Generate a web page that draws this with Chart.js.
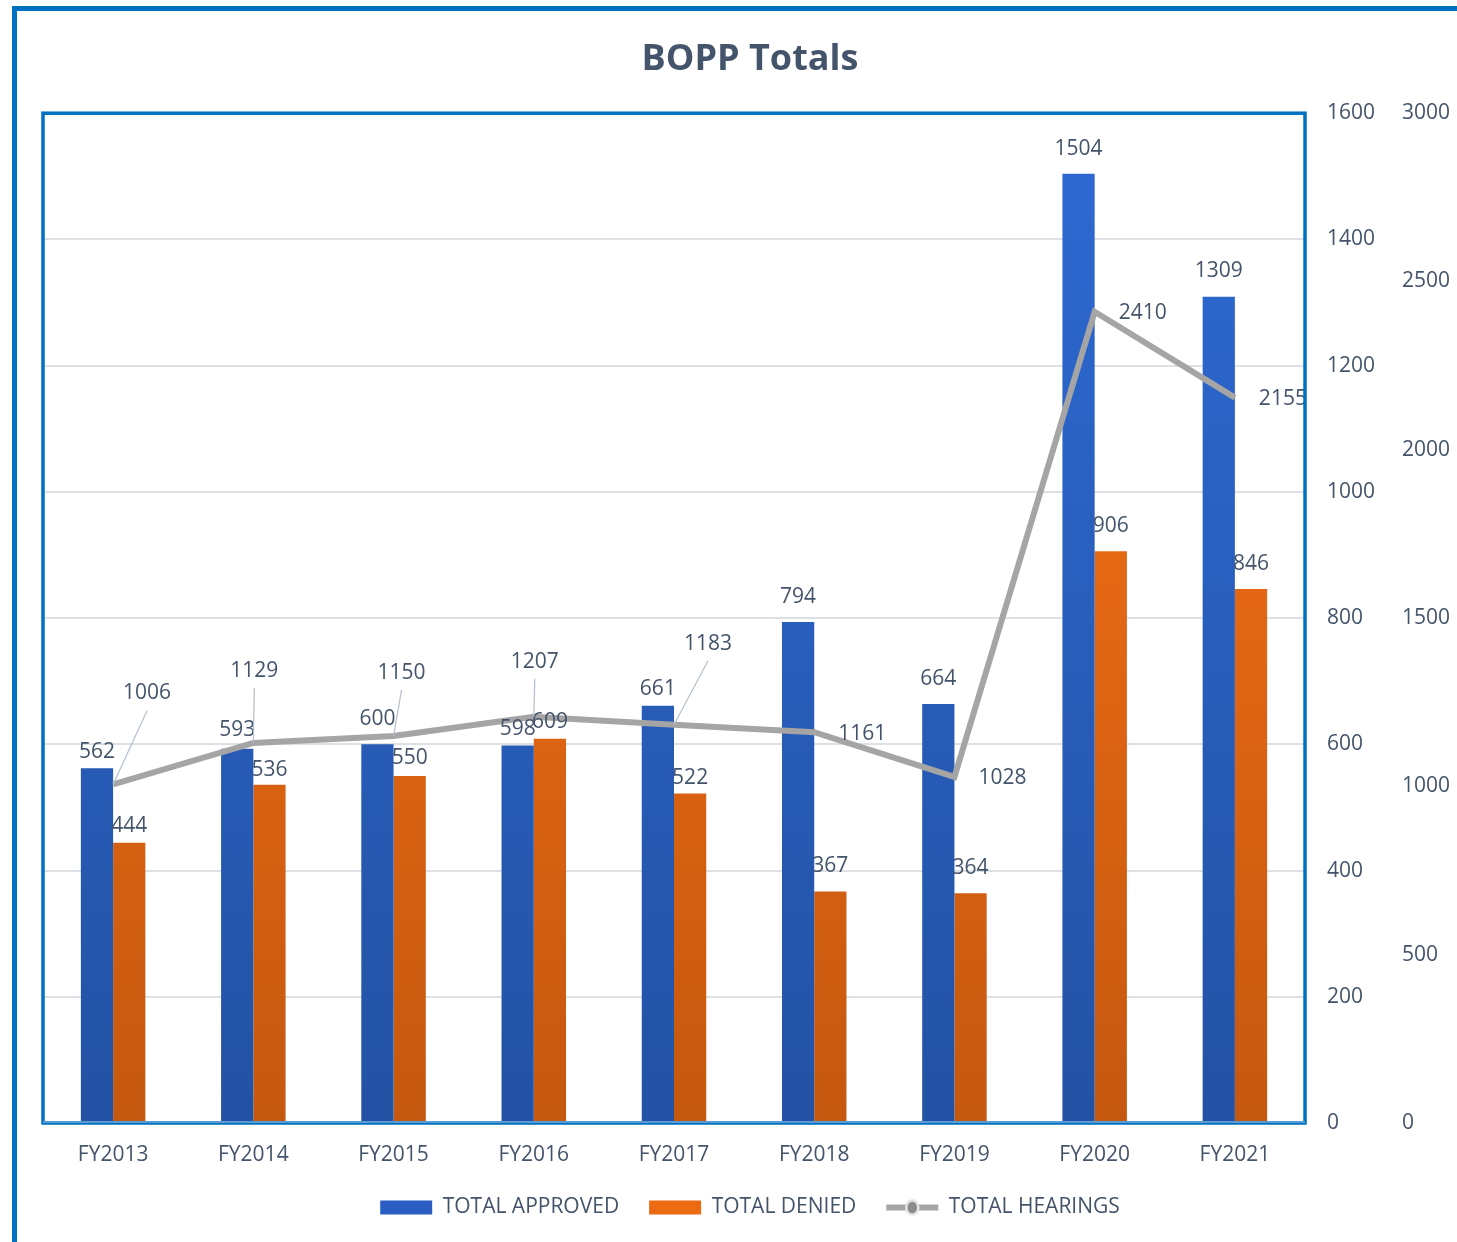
<!DOCTYPE html>
<html>
<head>
<meta charset="utf-8">
<script src="https://cdn.jsdelivr.net/npm/chart.js@4/dist/chart.umd.min.js"></script>
<style>
  html, body { margin: 0; padding: 0; background: #fff; }
  #wrap { width: 1457px; height: 1242px; }
</style>
</head>
<body>
<div id="wrap"><canvas id="myChart" width="1457" height="1242"></canvas></div>
<script>
const labels = ["FY2013", "FY2014", "FY2015", "FY2016", "FY2017", "FY2018", "FY2019", "FY2020", "FY2021"];
const approved = [562, 593, 600, 598, 661, 794, 664, 1504, 1309];
const denied = [444, 536, 550, 609, 522, 367, 364, 906, 846];
const hearings = [1006, 1129, 1150, 1207, 1183, 1161, 1028, 2410, 2155];
// label placement (gap above bar top) for the bar series
const approvedGap = [16, 19, 25, 17, 17, 25, 25, 25, 26];
const deniedGap = [17, 15, 18, 17, 16, 25, 25, 25, 25];
// label offsets for the hearings line (dx, dy from the point), leader = draw a thin line
const hearingOffsets = [[34, -91, true], [1, -72, true], [8, -63, true], [1, -55, true], [34, -81, true],
  [48, 2, false], [48, 1, false], [48, 1, false], [48, 1, false]];

const textColor = "#44546a";
const font = "'Open Sans', sans-serif";
const legendFill = ["#2a5ec2", "#ec6a12"];

function grad(ctx, top, bottom) {
  const area = ctx.chart.chartArea;
  if (!area) return top;
  const g = ctx.chart.ctx.createLinearGradient(0, area.top, 0, area.bottom);
  g.addColorStop(0, top);
  g.addColorStop(1, bottom);
  return g;
}

const framePlugin = {
  id: "frame",
  beforeDraw(chart) {
    const c = chart.ctx;
    c.save();
    c.fillStyle = "#fff";
    c.fillRect(0, 0, chart.width, chart.height);
    c.strokeStyle = "#0070c0";
    c.lineWidth = 5;
    c.strokeRect(14.5, 8.5, chart.width + 20, chart.height + 20);
    c.restore();
  },
  afterDatasetsDraw(chart) {
    const c = chart.ctx;
    const a = chart.chartArea;
    c.save();
    // data labels
    c.font = "21px " + font;
    c.fillStyle = textColor;
    c.textAlign = "center";
    c.textBaseline = "middle";
    const gaps = [approvedGap, deniedGap];
    [0, 1].forEach(di => {
      chart.getDatasetMeta(di).data.forEach((bar, i) => {
        const v = chart.data.datasets[di].data[i];
        c.fillText(String(v), bar.x, bar.y - gaps[di][i]);
      });
    });
    chart.getDatasetMeta(2).data.forEach((pt, i) => {
      const [dx, dy, leader] = hearingOffsets[i];
      const lx = pt.x + dx, ly = pt.y + dy;
      if (leader) {
        c.strokeStyle = "#b4c0d0";
        c.lineWidth = 1.2;
        c.beginPath();
        c.moveTo(pt.x, pt.y);
        c.lineTo(lx, ly + 17);
        c.stroke();
      }
      c.fillText(String(hearings[i]), lx, ly);
    });
    // plot frame
    c.strokeStyle = "#0070c0";
    c.lineWidth = 3.5;
    c.strokeRect(a.left, a.top, a.right - a.left, a.bottom - a.top);
    c.strokeStyle = "#5b9bd5";
    c.lineWidth = 2;
    c.beginPath();
    c.moveTo(a.left, a.bottom - 1);
    c.lineTo(a.right, a.bottom - 1);
    c.stroke();
    c.restore();
  },
  afterDraw(chart) {
    // marker in legend line symbol
    const lg = chart.legend;
    if (!lg || !lg.legendHitBoxes) return;
    const idx = lg.legendItems.findIndex(it => it.datasetIndex === 2);
    const hb = lg.legendHitBoxes[idx];
    if (!hb) return;
    const c = chart.ctx;
    c.save();
    c.fillStyle = "#8c8c8c";
    c.strokeStyle = "#e4e4e4";
    c.lineWidth = 2.5;
    c.beginPath();
    c.ellipse(hb.left + 26, hb.top + hb.height / 2, 6, 7, 0, 0, Math.PI * 2);
    c.fill();
    c.stroke();
    c.restore();
  }
};

const data = {
  labels: labels,
  datasets: [
    {
      type: "bar",
      label: "TOTAL APPROVED",
      data: approved,
      backgroundColor: ctx => grad(ctx, "#2e6ad4", "#2352a4"),
      yAxisID: "y",
      order: 2,
      barPercentage: 1,
      categoryPercentage: 0.46
    },
    {
      type: "bar",
      label: "TOTAL DENIED",
      data: denied,
      backgroundColor: ctx => grad(ctx, "#ff7518", "#c5580f"),
      yAxisID: "y",
      order: 2,
      barPercentage: 1,
      categoryPercentage: 0.46
    },
    {
      type: "line",
      label: "TOTAL HEARINGS",
      data: hearings,
      borderColor: "#a5a5a5",
      backgroundColor: "#a5a5a5",
      borderWidth: 6,
      pointRadius: 0,
      pointStyle: "line",
      tension: 0,
      yAxisID: "y1",
      order: 1
    }
  ]
};

const tickFont = { family: font, size: 21 };

const options = {
  responsive: false,
  animation: false,
  layout: { padding: { left: 43, right: 0, top: 0, bottom: 14 } },
  plugins: {
    title: {
      display: true,
      text: "BOPP Totals",
      color: textColor,
      font: { family: font, size: 36, weight: "bold" },
      padding: { top: 38, bottom: 32 }
    },
    legend: {
      position: "bottom",
      labels: {
        color: textColor,
        font: { family: font, size: 21 },
        usePointStyle: true,
        pointStyleWidth: 52,
        boxHeight: 14,
        padding: 30,
        sort: (a, b) => a.datasetIndex - b.datasetIndex,
        generateLabels(chart) {
          const items = Chart.defaults.plugins.legend.labels.generateLabels(chart);
          items.forEach(it => {
            it.pointStyle = it.datasetIndex === 2 ? "line" : "rect";
            if (it.datasetIndex < 2) {
              it.lineWidth = 0;
              it.fillStyle = legendFill[it.datasetIndex];
            }
          });
          return items;
        }
      }
    },
    tooltip: { enabled: false }
  },
  scales: {
    x: {
      grid: { display: false, drawTicks: false },
      border: { display: false },
      ticks: { color: textColor, font: tickFont, padding: 19 },
      afterFit(s) { s.height = 44; }
    },
    y: {
      position: "right",
      weight: 0,
      min: 0,
      max: 1600,
      grid: { color: "#dde1e6", lineWidth: 2, drawTicks: false },
      border: { display: false },
      ticks: { stepSize: 200, color: textColor, font: tickFont, padding: 22, callback: v => String(v) },
      afterFit(s) { s.width = 75; }
    },
    y1: {
      position: "right",
      weight: 1,
      min: 0,
      max: 3000,
      grid: { display: false, drawTicks: false },
      border: { display: false },
      ticks: { stepSize: 500, color: textColor, font: tickFont, padding: 22, callback: v => String(v) },
      afterFit(s) { s.width = 77; }
    }
  }
};

const chart = new Chart("myChart", {
  data: data,
  options: options,
  plugins: [framePlugin]
});
</script>
</body>
</html>
